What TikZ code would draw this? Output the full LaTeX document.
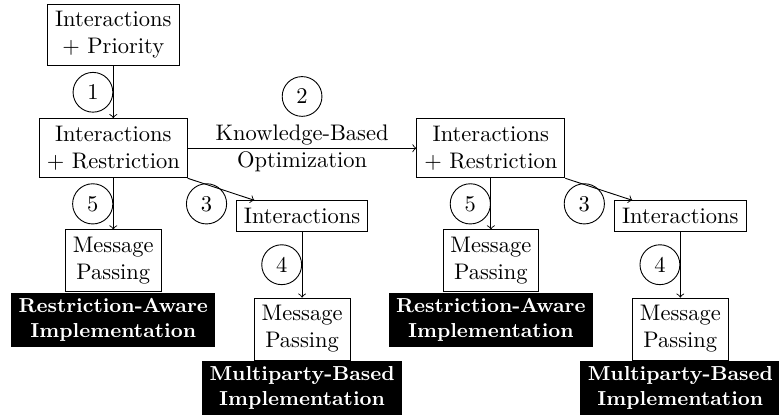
\documentclass[tikz,border=0pt]{standalone}
\usepackage{tikz}
\usetikzlibrary{positioning}

\begin{document}
\begin{tikzpicture}[
		box/.style={draw, align=center},
		impl/.style={fill=black, text=white, align=center, inner ysep=2.5pt, font=\small\bfseries},
		num/.style={draw, circle}
	]
	\useasboundingbox (0,0) rectangle (12.172,6.516);
	% Starting model and its restricted version
	\node[box] (prio) at (1.77,5.97) {Interactions\\+ Priority};
	\node[box] (restr) at (1.77,4.20) {Interactions\\+ Restriction};
	\node[box] (krestr) at (7.67,4.20) {Interactions\\+ Restriction};
	
	% Left branch
	\node[box] (msg) at (1.77,2.44) {Message\\Passing};
	\node[impl, below=0pt of msg] (raw) {Restriction-Aware\\Implementation};
	\node[box] (inter) at (4.72,3.14) {Interactions};
	\node[box] (mmsg) at (4.72,1.375) {Message\\Passing};
	\node[impl, below=0pt of mmsg] (mpb) {Multiparty-Based\\Implementation};
	
	% Right branch
	\node[box] (kmsg) at (7.67,2.44) {Message\\Passing};
	\node[impl, below=0pt of kmsg] (kraw) {Restriction-Aware\\Implementation};
	\node[box] (kinter) at (10.63,3.14) {Interactions};
	\node[box] (kmmsg) at (10.63,1.375) {Message\\Passing};
	\node[impl, below=0pt of kmmsg] (kmpb) {Multiparty-Based\\Implementation};
	
	% Transformations
	\draw[->] (prio) -- node[midway, left, num] {1} (restr);
	\draw[->] (restr) -- node[midway, align=center] (kbo) {Knowledge-Based\\Optimization} (krestr);
	\node[num, above=0pt of kbo] (two) {2};
	\draw[->] (restr) -- node[midway, left, num] {5} (msg);
	\draw[->] (restr.south east) -- node[midway, below left, num] {3} (inter);
	\draw[->] (inter) -- node[midway, left, num] {4} (mmsg);
	\draw[->] (krestr) -- node[midway, left, num] {5} (kmsg);
	\draw[->] (krestr.south east) -- node[midway, below left, num] {3} (kinter);
	\draw[->] (kinter) -- node[midway, left, num] {4} (kmmsg);
\end{tikzpicture}
\end{document}
